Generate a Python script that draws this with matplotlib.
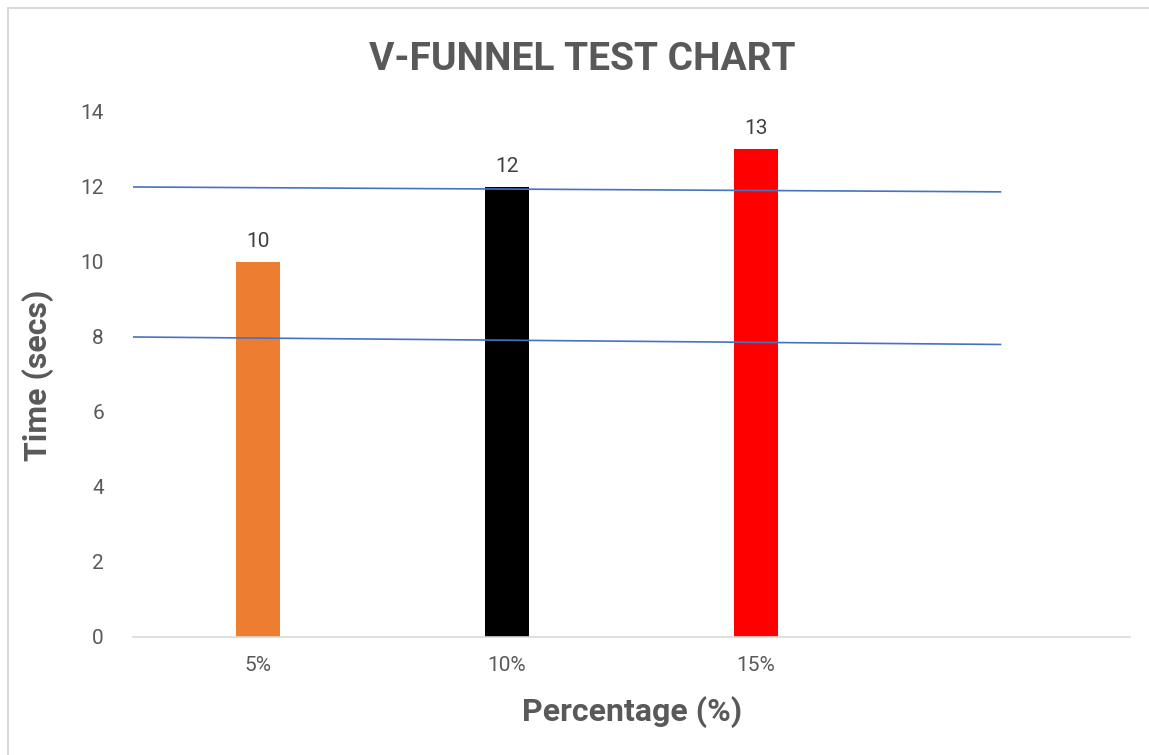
import matplotlib.pyplot as plt
from matplotlib.patches import Rectangle

# chart data
categories = ['5%', '10%', '15%']
times = [10, 12, 13]
bar_colors = ['#ED7D31', '#000000', '#FF0000']

# two hand-drawn reference lines (start / end)
line_x = [-0.5, 2.98]
upper_line = [12.0, 11.87]
lower_line = [8.0, 7.8]

narrow = ['Liberation Sans Narrow', 'Roboto', 'DejaVu Sans']
grey = '#595959'

fig = plt.figure(figsize=(11.49, 7.55), dpi=100)
ax = fig.add_axes([0.1158, 0.1563, 0.8677, 0.6954])

xs = list(range(len(categories)))
bars = ax.bar(xs, times, width=0.177, color=bar_colors, zorder=2)
for x, v in zip(xs, times):
    ax.text(x, v + 0.3, str(v), ha='center', va='bottom', fontsize=15,
            color='#404040', family=['Roboto', 'DejaVu Sans'])

ax.plot(line_x, upper_line, color='#4472C4', lw=1.2, zorder=3)
ax.plot(line_x, lower_line, color='#4472C4', lw=1.2, zorder=3)

ax.set_xlim(-0.5, 3.5)
ax.set_ylim(0, 14)
ax.set_xticks(xs)
ax.set_xticklabels(categories)
ax.set_yticks(range(0, 15, 2))

for s in ['top', 'right', 'left']:
    ax.spines[s].set_visible(False)
ax.spines['bottom'].set_color('#D9D9D9')
ax.spines['bottom'].set_linewidth(1.2)
ax.tick_params(axis='both', length=0, labelsize=15, labelcolor=grey)
ax.tick_params(axis='x', pad=14)
ax.tick_params(axis='y', pad=21)
for lbl in ax.get_xticklabels() + ax.get_yticklabels():
    lbl.set_family(['Roboto', 'DejaVu Sans'])

fig.text(0.507, 0.921, 'V-FUNNEL TEST CHART', ha='center', va='center',
         fontsize=28, fontweight='bold', color=grey, family=narrow)
fig.text(0.55, 0.057, 'Percentage (%)', ha='center', va='center',
         fontsize=23, fontweight='bold', color=grey, family=narrow)
fig.text(0.033, 0.503, 'Time (secs)', ha='center', va='center', rotation=90,
         fontsize=23, fontweight='bold', color=grey, family=narrow)

# outer chart border
fig.add_artist(Rectangle((0.007, -0.01), 1.1, 1.0, transform=fig.transFigure,
                         fill=False, edgecolor='#D9D9D9', lw=1.5))

fig.savefig('out.png', dpi=100)
